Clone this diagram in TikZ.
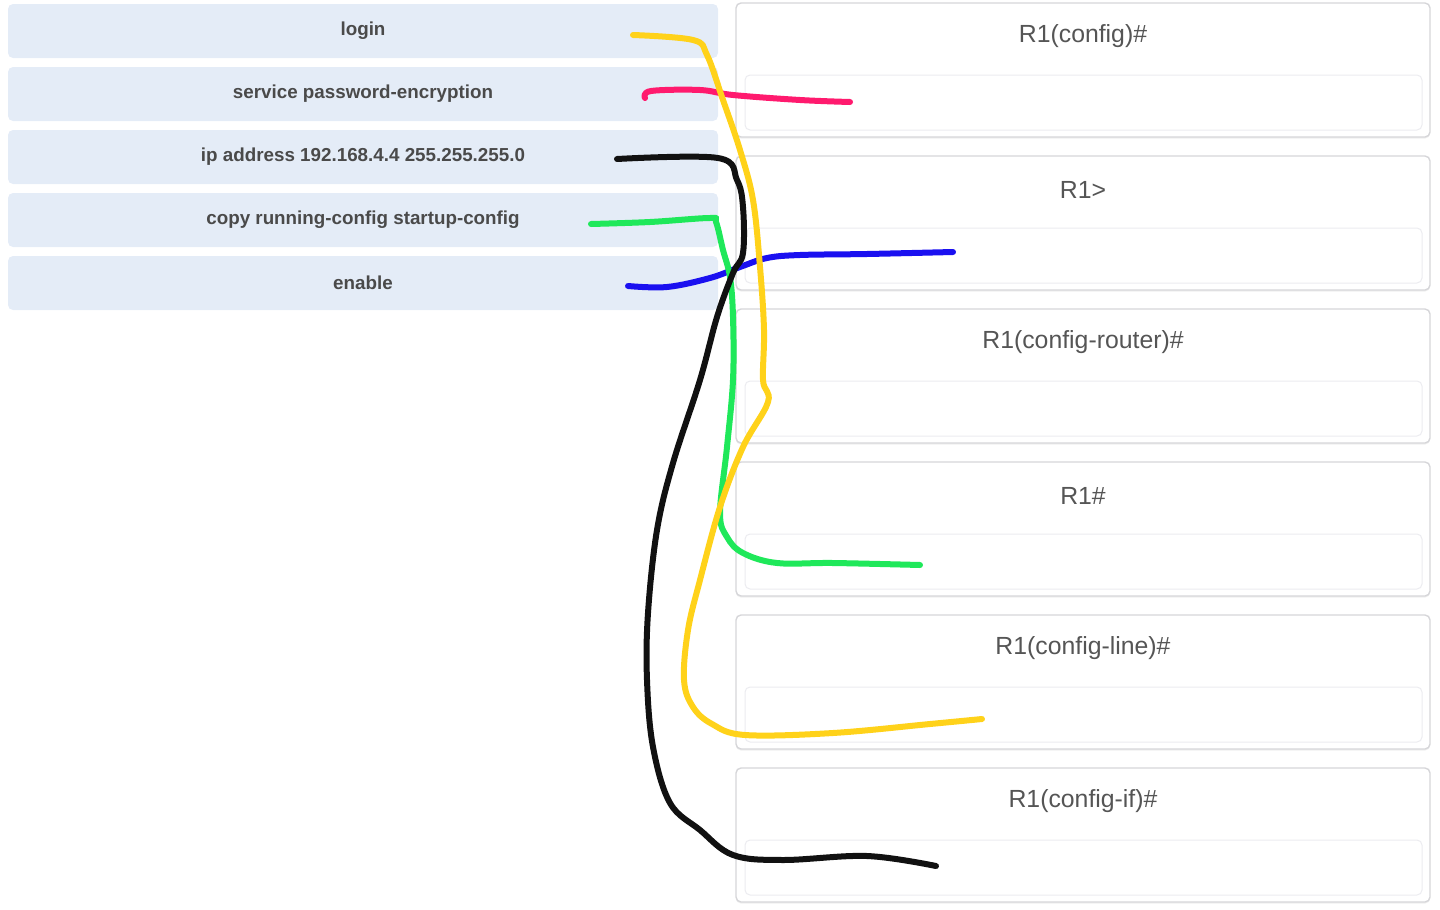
\documentclass[tikz,border=0pt]{standalone}
\usepackage{fontspec}
\setmainfont{Liberation Sans}
\usetikzlibrary{positioning,shadows}

\definecolor{cmdfill}{HTML}{E4ECF7}
\definecolor{cmdtext}{HTML}{4A4A4A}
\definecolor{modeline}{HTML}{D6D6D9}
\definecolor{dropline}{HTML}{ECECF0}
\definecolor{modetext}{HTML}{555555}
\definecolor{penyellow}{HTML}{FFD21A}
\definecolor{penpink}{HTML}{FF1A6E}
\definecolor{pengreen}{HTML}{1FE85A}
\definecolor{penblue}{HTML}{1A10F0}
\definecolor{penblack}{HTML}{111111}

\tikzset{
  cmdbox/.style={fill=cmdfill, rounded corners=2.5pt, minimum width=355pt,
    minimum height=27pt, inner sep=0pt, text=cmdtext,
    font=\fontsize{9.4}{11}\selectfont\bfseries},
  modebox/.style={draw=modeline, line width=0.7pt, fill=white, rounded corners=2.5pt,
    minimum width=347pt, minimum height=67pt, inner sep=0pt,
    drop shadow={opacity=0.12, shadow xshift=0pt, shadow yshift=-0.8pt}},
  dropbox/.style={draw=dropline, line width=0.5pt, rounded corners=2.5pt,
    minimum width=338.5pt, minimum height=27.5pt, inner sep=0pt},
  modelabel/.style={text=modetext, font=\fontsize{12.4}{14}\selectfont},
  pen/.style={line width=3pt, line cap=round, line join=round},
}

\begin{document}
\begin{tikzpicture}[x=0.5pt, y=-0.5pt]
\useasboundingbox (0,0) rectangle (1440,910);

% commands on the left
\node[cmdbox] (login)   at (363,31)  {login};
\node[cmdbox] (spe)     at (363,94)  {service password-encryption};
\node[cmdbox] (ipaddr)  at (363,157) {ip address 192.168.4.4 255.255.255.0};
\node[cmdbox] (copyrun) at (363,220) {copy running-config startup-config};
\node[cmdbox] (enable)  at (363,283) {enable};

% modes on the right
\foreach \name/\txt [count=\i from 0] in {cfg/R1(config)\#, usr/R1>,
    rtr/R1(config-router)\#, priv/R1\#, line/R1(config-line)\#, intf/R1(config-if)\#}
{
  \node[modebox] (\name) at (1083,70+153*\i) {};
  \node[modelabel] (\name-lbl) at (1083,36.5+153*\i) {\txt};
  \node[dropbox] (\name-drop) at (1083.5,102.5+153*\i) {};
}

% pen strokes
\coordinate (spe-a) at (645,98);
\coordinate (cfg-b) at (850,102);
\draw[pen, penpink] plot[smooth, tension=0.6] coordinates {(spe-a) (651,91) (700,90)
  (733,95) (800,100) (cfg-b)};

\coordinate (enable-a) at (628,286);
\coordinate (usr-b) at (953,252);
\draw[pen, penblue] plot[smooth, tension=0.6] coordinates {(enable-a) (667,287) (710,278)
  (740,267) (767,258) (800,255) (867,254) (usr-b)};

\coordinate (copyrun-a) at (591,224);
\coordinate (priv-b) at (920,565);
\draw[pen, pengreen] plot[smooth, tension=0.6] coordinates {(copyrun-a) (650,222) (710,218)
  (716,222) (723,250) (730,277) (733,317) (733,380) (727,447) (720,513) (727,537)
  (743,553) (777,563) (833,563) (priv-b)};

\coordinate (ipaddr-a) at (617,159);
\coordinate (intf-b) at (936,866);
\draw[pen, penblack] plot[smooth, tension=0.6] coordinates {(ipaddr-a) (718,158) (737,180)
  (743,207) (743,253) (733,273) (717,317) (700,380) (673,463) (657,530) (648,613)
  (647,680) (653,747) (670,803) (700,830) (733,855) (783,860) (867,856) (intf-b)};

\coordinate (login-a) at (633,35);
\coordinate (line-b) at (982,719);
\draw[pen, penyellow] plot[smooth, tension=0.6] coordinates {(login-a) (693,40) (707,55)
  (723,100) (740,150) (753,200) (760,267) (764,330) (763,380) (768,402) (743,447)
  (720,507) (700,580) (688,630) (684,680) (693,707) (712,724) (745,735) (833,733)
  (930,724) (line-b)};
\end{tikzpicture}
\end{document}
